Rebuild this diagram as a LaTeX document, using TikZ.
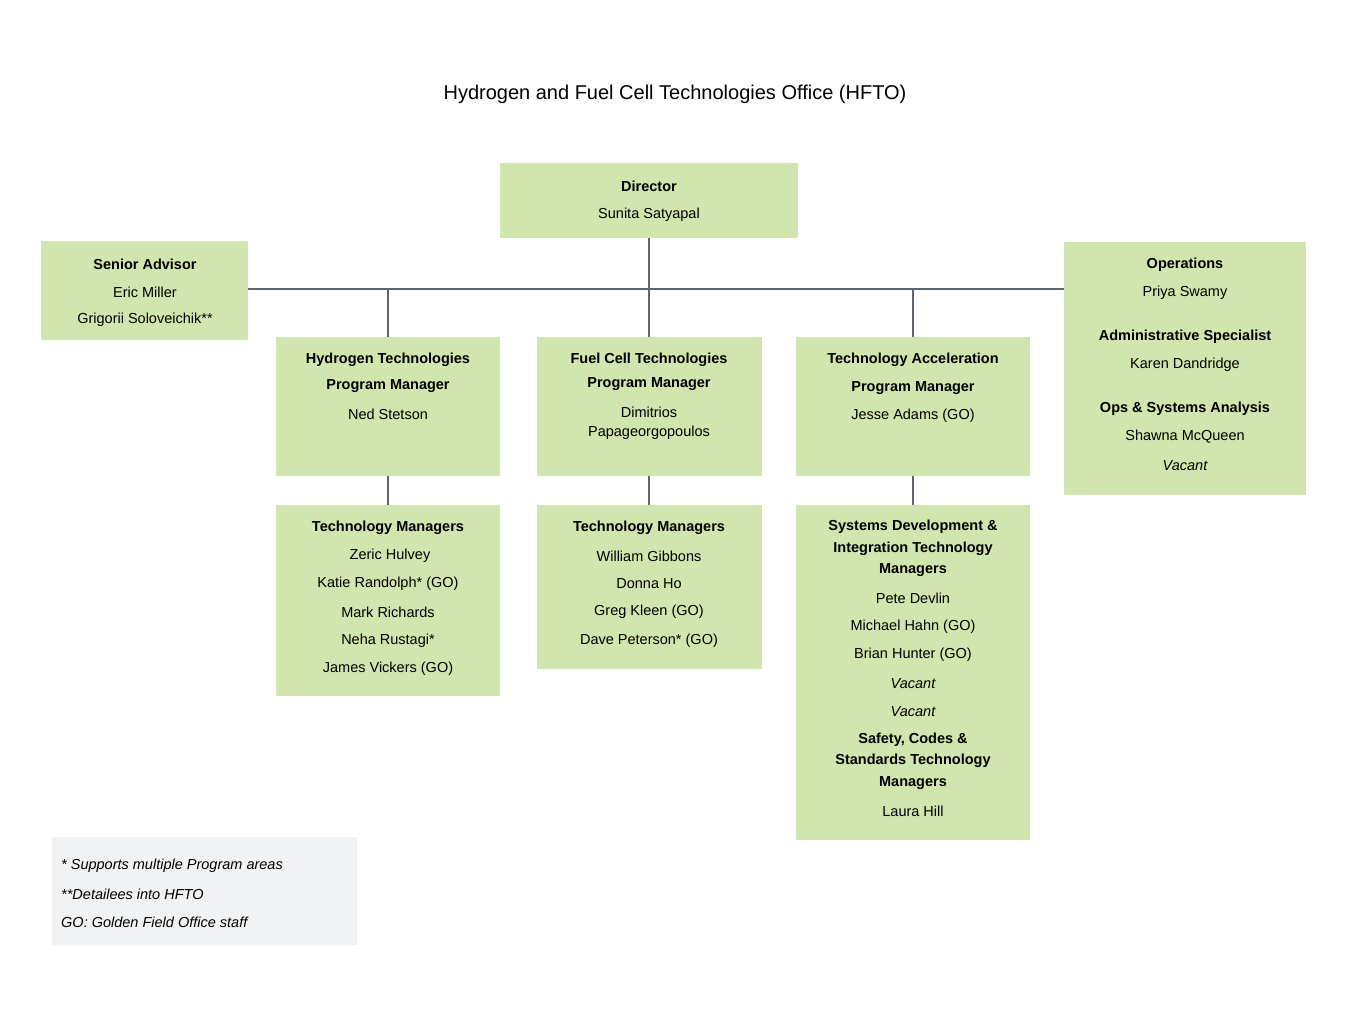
\documentclass[tikz,border=0pt]{standalone}
\usepackage{fontspec}
\setmainfont{Liberation Sans}
\definecolor{boxg}{HTML}{D1E5AE}
\definecolor{legg}{HTML}{F1F2F3}
\definecolor{lineg}{HTML}{5C6670}
\begin{document}
\begin{tikzpicture}[x=1pt,y=-1pt,
  bx/.style={fill=boxg,draw=none,minimum width=0pt,inner sep=0pt},
  t/.style={font=\fontsize{14.5}{16}\selectfont,anchor=center,inner sep=0pt},
  b/.style={t,font=\fontsize{14.5}{16}\selectfont\bfseries},
  con/.style={draw=lineg,line width=1.5pt}]
\useasboundingbox (0,0) rectangle (1350,1032);
\node[font=\fontsize{20}{24}\selectfont] (title) at (675,94) {Hydrogen and Fuel Cell Technologies Office (HFTO)};
% boxes
\path[fill=boxg] (500,163) rectangle (798,238) coordinate (dirBR);
\coordinate (dir) at (649,238);
\path[fill=boxg] (41,241) rectangle (248,340);
\path[fill=boxg] (1064,242) rectangle (1306,495);
\path[fill=boxg] (276,337) rectangle (500,476);
\path[fill=boxg] (276,505) rectangle (500,696);
\path[fill=boxg] (537,337) rectangle (762,476);
\path[fill=boxg] (537,505) rectangle (762,669);
\path[fill=boxg] (796,337) rectangle (1030,476);
\path[fill=boxg] (796,505) rectangle (1030,840);
\path[fill=legg] (52,837) rectangle (357,945);
% connector coordinates
\coordinate (sa) at (248,289); \coordinate (ops) at (1064,289);
\coordinate (j) at (649,289);
\coordinate (hpm) at (388,337); \coordinate (hpmb) at (388,476); \coordinate (htm) at (388,505);
\coordinate (fpm) at (649,337); \coordinate (fpmb) at (649,476); \coordinate (ftm) at (649,505);
\coordinate (tpm) at (913,337); \coordinate (tpmb) at (913,476); \coordinate (ttm) at (913,505);
\draw[con] (sa) -- (ops);
\draw[con] (dir) -- (j);
\draw[con] (hpm) -- (388,289);
\draw[con] (fpm) -- (j);
\draw[con] (tpm) -- (913,289);
\draw[con] (hpmb) -- (htm);
\draw[con] (fpmb) -- (ftm);
\draw[con] (tpmb) -- (ttm);
% texts
\node[b] at (649,186) {Director};
\node[t] at (649,215) {Sunita Satyapal};
\node[b] at (145,264) {Senior Advisor};
\node[t] at (145,292) {Eric Miller};
\node[t] at (145,320) {Grigorii Soloveichik**};
\node[b] at (1185,265) {Operations};
\node[t] at (1185,293) {Priya Swamy};
\node[b] at (1185,337) {Administrative Specialist};
\node[t] at (1185,365) {Karen Dandridge};
\node[b] at (1185,409) {Ops \& Systems Analysis};
\node[t] at (1185,437) {Shawna McQueen};
\node[t,font=\fontsize{14.5}{16}\selectfont\itshape] at (1185,466) {Vacant};
\node[b] at (388,360) {Hydrogen Technologies};
\node[b] at (388,386) {Program Manager};
\node[t] at (388,414) {Ned Stetson};
\node[b] at (649,360) {Fuel Cell Technologies};
\node[b] at (649,384) {Program Manager};
\node[t] at (649,412) {Dimitrios};
\node[t] at (649,433) {Papageorgopoulos};
\node[b] at (913,360) {Technology Acceleration};
\node[b] at (913,388) {Program Manager};
\node[t] at (913,416) {Jesse Adams (GO)};
\node[b] at (388,528) {Technology Managers};
\node[t] at (390,556) {Zeric Hulvey};
\node[t] at (388,584) {Katie Randolph* (GO)};
\node[t] at (388,612) {Mark Richards};
\node[t] at (388,641) {Neha Rustagi*};
\node[t] at (388,669) {James Vickers (GO)};
\node[b] at (649,528) {Technology Managers};
\node[t] at (649,556) {William Gibbons};
\node[t] at (649,584) {Donna Ho};
\node[t] at (649,612) {Greg Kleen (GO)};
\node[t] at (649,641) {Dave Peterson* (GO)};
\node[b] at (913,527) {Systems Development \&};
\node[b] at (913,549) {Integration Technology};
\node[b] at (913,570) {Managers};
\node[t] at (913,598) {Pete Devlin};
\node[t] at (913,627) {Michael Hahn (GO)};
\node[t] at (913,655) {Brian Hunter (GO)};
\node[t,font=\fontsize{14.5}{16}\selectfont\itshape] at (913,684) {Vacant};
\node[t,font=\fontsize{14.5}{16}\selectfont\itshape] at (913,712) {Vacant};
\node[b] at (913,740) {Safety, Codes \&};
\node[b] at (913,761) {Standards Technology};
\node[b] at (913,783) {Managers};
\node[t] at (913,811) {Laura Hill};
\node[t,anchor=west,font=\fontsize{14.5}{16}\selectfont\itshape] at (61,866) {* Supports multiple Program areas};
\node[t,anchor=west,font=\fontsize{14.5}{16}\selectfont\itshape] at (61,894) {**Detailees into HFTO};
\node[t,anchor=west,font=\fontsize{14.5}{16}\selectfont\itshape] at (61,922) {GO: Golden Field Office staff};
\end{tikzpicture}
\end{document}
